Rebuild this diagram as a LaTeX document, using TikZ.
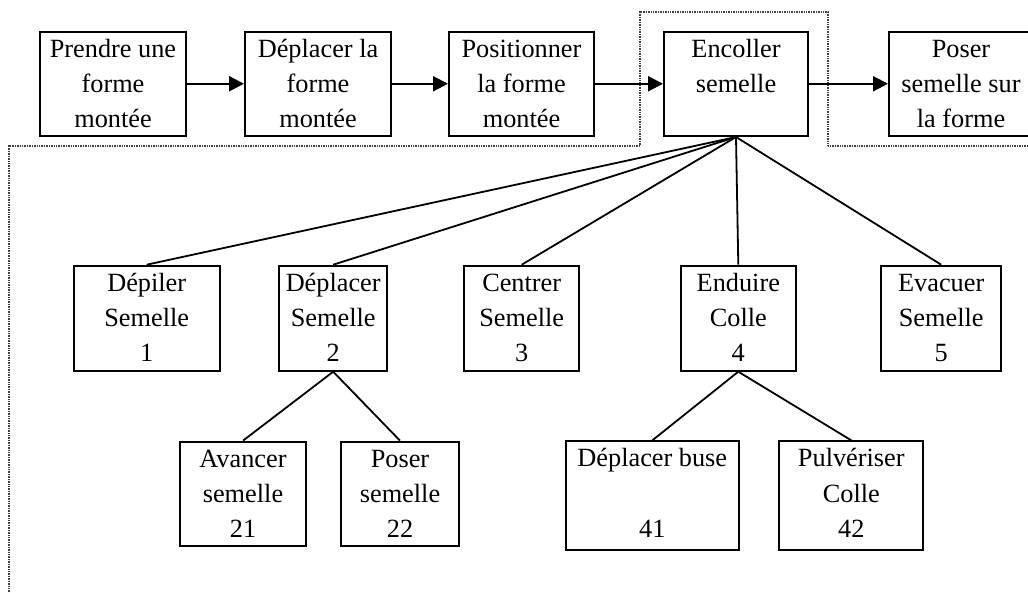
\documentclass[tikz,border=0pt]{standalone}
\usepackage{fontspec}
\setmainfont{Liberation Serif}
\usetikzlibrary{arrows.meta}
\newcommand{\bxt}[3]{\parbox[c][#2][t]{#1}{\centering\rule{0pt}{25.5pt}#3}}
\tikzset{
  box/.style={draw, line width=2pt, inner sep=0pt, rectangle, font=\fontsize{26.3}{35.3}\selectfont},
  flow/.style={line width=2.2pt, -{Triangle[length=15pt,width=15pt]}},
  link/.style={line width=1.8pt},
  frame/.style={line width=1.6pt, dash pattern=on 1pt off 0.7pt, black!75}
}
\begin{document}
\begin{tikzpicture}[x=1pt,y=-1pt]
\useasboundingbox (0,0) rectangle (1028,592);
% frame
\coordinate (f1) at (1040,146);
\coordinate (f2) at (828,146);
\coordinate (f3) at (828,12);
\coordinate (f4) at (640,12);
\coordinate (f5) at (640,146);
\coordinate (f6) at (9,146);
\coordinate (f7) at (9,600);
\draw[frame] (f1) -- (f2) -- (f3) -- (f4) -- (f5) -- (f6) -- (f7);
% top row
\node[box] (b1) at (113,83.75) {\bxt{146pt}{104.5pt}{Prendre une\\forme\\montée}};
\node[box] (b2) at (318,83.75) {\bxt{146pt}{104.5pt}{Déplacer la\\forme\\montée}};
\node[box] (b3) at (521.5,83.75) {\bxt{145pt}{104.5pt}{Positionner\\la forme\\montée}};
\node[box] (b4) at (736,83.75) {\bxt{144pt}{104.5pt}{Encoller\\semelle}};
\node[box] (b5) at (961,83.75) {\bxt{144pt}{104.5pt}{Poser\\semelle sur\\la forme}};
\draw[flow] (b1) -- (b2);
\draw[flow] (b2) -- (b3);
\draw[flow] (b3) -- (b4);
\draw[flow] (b4) -- (b5);
% level 1
\node[box] (c1) at (146.7,318.2) {\bxt{146pt}{105pt}{Dépiler\\Semelle\\1}};
\node[box] (c2) at (333.2,318.2) {\bxt{107.7pt}{105pt}{Déplacer\\Semelle\\2}};
\node[box] (c3) at (521.7,318.2) {\bxt{114.7pt}{105pt}{Centrer\\Semelle\\3}};
\node[box] (c4) at (738.3,318.2) {\bxt{115.3pt}{105pt}{Enduire\\Colle\\4}};
\node[box] (c5) at (941.2,318.2) {\bxt{120.3pt}{105pt}{Evacuer\\Semelle\\5}};
\foreach \c in {c1,c2,c3,c4,c5} \draw[link] (b4.south) -- (\c.north);
% level 2
\node[box] (d1) at (243,493.8) {\bxt{126pt}{104.3pt}{Avancer\\semelle\\21}};
\node[box] (d2) at (400,493.8) {\bxt{118.6pt}{104.3pt}{Poser\\semelle\\22}};
\node[box] (e1) at (652.3,495.7) {\bxt{173.3pt}{108.7pt}{Déplacer buse\\\mbox{}\\41}};
\node[box] (e2) at (851.3,495.7) {\bxt{144pt}{108.7pt}{Pulvériser\\Colle\\42}};
\draw[link] (c2.south) -- (d1.north);
\draw[link] (c2.south) -- (d2.north);
\draw[link] (c4.south) -- (e1.north);
\draw[link] (c4.south) -- (e2.north);
\end{tikzpicture}
\end{document}
